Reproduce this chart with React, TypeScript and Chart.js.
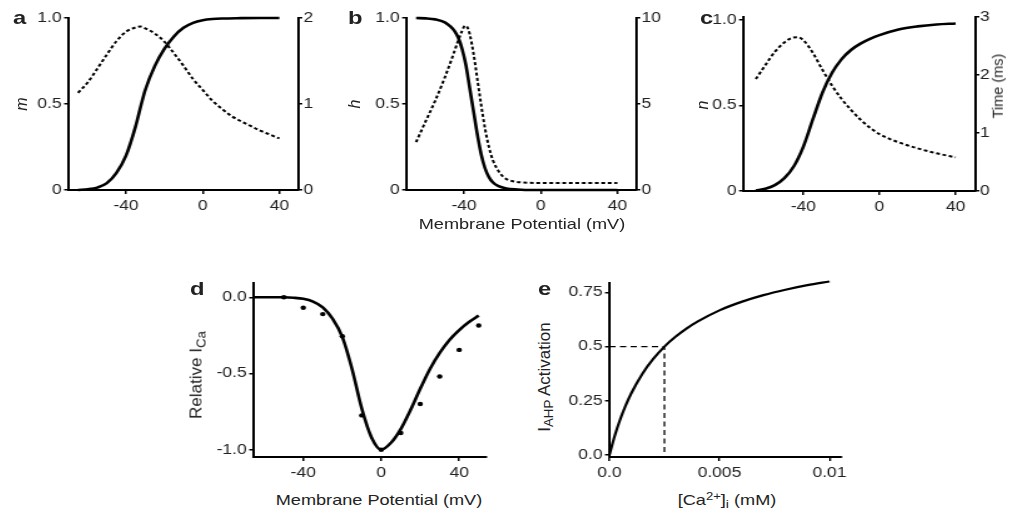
import React, { useEffect, useRef } from "react";
import { Chart, registerables } from "chart.js";

Chart.register(...registerables);

// horizontal stretch of the original figure
const S = 1.25;
const FONT = '"Liberation Sans", Arial, Helvetica, sans-serif';
const INK = "#000";
const TEXT = "#222";

// ---------- Panel a : m gate ----------
const A_V = [-65, -60, -55, -50, -45, -40, -35, -32, -30, -25, -20, -15, -10, -5, 0, 5, 10, 20, 30, 40];
const A_M = [0, 0.004, 0.014, 0.04, 0.1, 0.2, 0.37, 0.5, 0.58, 0.72, 0.82, 0.893, 0.943, 0.972, 0.987, 0.994, 0.997, 0.999, 1, 1];
const A_TAU_V = [-65, -60, -55, -50, -45, -40, -35, -32.5, -30, -25, -20, -15, -10, -5, 0, 5, 10, 15, 20, 25, 30, 35, 40];
const A_TAU = [1.13, 1.25, 1.41, 1.575, 1.73, 1.84, 1.89, 1.9, 1.88, 1.82, 1.725, 1.59, 1.445, 1.29, 1.165, 1.04, 0.945, 0.86, 0.8, 0.745, 0.69, 0.645, 0.6];
const A_X_TICKS = [-40, 0, 40];
const A_X_LABELS = ["-40", "0", "40"];
const A_Y_TICKS = [0, 0.5, 1];
const A_Y_LABELS = ["0", "0.5", "1.0"];
const A_Y2_TICKS = [0, 1, 2];
const A_Y2_LABELS = ["0", "1", "2"];

// ---------- Panel b : h gate ----------
const B_V = [-65, -60, -55, -50, -47, -45, -43, -41, -39, -37, -35, -33, -31, -29, -27, -25, -22, -18, -12, -5, 0, 10, 20, 30, 40];
const B_H = [1, 0.998, 0.992, 0.975, 0.95, 0.925, 0.885, 0.82, 0.725, 0.59, 0.455, 0.32, 0.205, 0.125, 0.075, 0.045, 0.022, 0.009, 0.003, 0, 0, 0, 0, 0, 0];
const B_TAU_V = [-65, -60, -55, -50, -46, -43, -41, -39.5, -38.5, -37, -35, -33, -31, -29, -27, -25, -22, -19, -15, -10, 0, 20, 40];
const B_TAU = [2.78, 4.0, 5.2, 6.55, 7.75, 8.7, 9.25, 9.55, 9.5, 9.05, 7.9, 6.4, 4.9, 3.55, 2.5, 1.75, 1.1, 0.72, 0.52, 0.44, 0.41, 0.4, 0.4];
const B_Y2_TICKS = [0, 5, 10];
const B_Y2_LABELS = ["0", "5", "10"];

// ---------- Panel c : n gate ----------
const C_V = [-65, -60, -55, -50, -45, -40, -35, -30, -25, -20, -15, -10, -5, 0, 10, 20, 30, 40];
const C_N = [0.003, 0.013, 0.034, 0.075, 0.145, 0.26, 0.42, 0.575, 0.69, 0.77, 0.825, 0.862, 0.89, 0.912, 0.945, 0.963, 0.974, 0.98];
const C_TAU_V = [-65, -60, -55, -50, -46, -43, -40, -35, -30, -25, -20, -15, -10, -5, 0, 10, 20, 30, 40];
const C_TAU = [1.93, 2.17, 2.4, 2.56, 2.64, 2.65, 2.6, 2.38, 2.09, 1.82, 1.59, 1.4, 1.23, 1.09, 0.98, 0.84, 0.735, 0.65, 0.58];
const C_Y2_TICKS = [0, 1, 2, 3];
const C_Y2_LABELS = ["0", "1", "2", "3"];

// ---------- Panel d : relative I_Ca ----------
const D_V = [-65, -50, -45, -40, -35, -30, -25, -20, -15, -10, -5, 0, 5, 10, 15, 20, 25, 30, 35, 40, 45, 50];
const D_FIT = [0, 0, -0.003, -0.01, -0.028, -0.066, -0.14, -0.26, -0.47, -0.73, -0.92, -1.0, -0.955, -0.865, -0.74, -0.6, -0.47, -0.365, -0.28, -0.215, -0.162, -0.12];
const D_PTS_V = [-50, -40, -30, -20, -10, 0, 10, 20, 30, 40, 50];
const D_PTS = [0, -0.068, -0.11, -0.255, -0.775, -1.0, -0.89, -0.7, -0.52, -0.345, -0.185];
const D_X_TICKS = [-40, 0, 40];
const D_X_LABELS = ["-40", "0", "40"];
const D_Y_TICKS = [-1, -0.5, 0];
const D_Y_LABELS = ["-1.0", "-0.5", "0.0"];

// ---------- Panel e : I_AHP activation ----------
const E_CA = [0, 0.00025, 0.0005, 0.00075, 0.001, 0.0015, 0.002, 0.0025, 0.003, 0.0035, 0.004, 0.005, 0.006, 0.007, 0.008, 0.009, 0.01];
const E_ACT = [0, 0.091, 0.167, 0.231, 0.286, 0.375, 0.444, 0.5, 0.545, 0.583, 0.615, 0.667, 0.706, 0.737, 0.762, 0.783, 0.8];
const E_HALF_CA = 0.0025;
const E_HALF_ACT = 0.5;
const E_X_TICKS = [0, 0.005, 0.01];
const E_X_LABELS = ["0.0", "0.005", "0.01"];
const E_Y_TICKS = [0, 0.25, 0.5, 0.75];
const E_Y_LABELS = ["0.0", "0.25", "0.5", "0.75"];

type Box = { left: number; top: number; right: number; bottom: number };

const pts = (xs: number[], ys: number[]) => xs.map((x, i) => ({ x, y: ys[i] }));

function axis(pos: string, min: number, max: number, ticks: number[], labels: string[], size: number, tickLen: number, pad: number) {
  return {
    type: "linear",
    position: pos,
    min,
    max,
    afterBuildTicks: (s: any) => {
      s.ticks = ticks.map((v) => ({ value: v }));
    },
    afterFit: (s: any) => {
      if (pos === "bottom") s.height = size;
      else s.width = size;
    },
    ticks: {
      callback: (_v: any, i: number) => labels[i],
      font: { family: FONT, size: 14 },
      color: TEXT,
      padding: pad,
      autoSkip: false,
      maxRotation: 0,
      minRotation: 0,
    },
    grid: { display: true, drawOnChartArea: false, drawTicks: true, tickLength: tickLen, color: INK, lineWidth: 1.5 },
    border: { display: true, color: INK, width: 2 },
  };
}

const solid = (data: any[], yAxisID = "y") => ({
  data,
  yAxisID,
  showLine: true,
  borderColor: INK,
  borderWidth: 2.6,
  pointRadius: 0,
  pointHoverRadius: 0,
  cubicInterpolationMode: "monotone",
  clip: false,
  fill: false,
});

const dotted = (data: any[], yAxisID = "y2") => ({
  ...solid(data, yAxisID),
  borderWidth: 2,
  borderDash: [3, 2.2],
});

function config(datasets: any[], scales: any) {
  return {
    type: "scatter",
    data: { datasets },
    options: {
      animation: false,
      responsive: false,
      maintainAspectRatio: false,
      events: [],
      layout: { padding: { top: 12, right: 14, bottom: 2, left: 2 } },
      plugins: { legend: { display: false }, tooltip: { enabled: false }, title: { display: false } },
      scales,
    },
  } as any;
}

const buildA = () =>
  config(
    [solid(pts(A_V, A_M)), dotted(pts(A_TAU_V, A_TAU))],
    {
      x: axis("bottom", -70, 50, A_X_TICKS, A_X_LABELS, 30, 4, 4),
      y: axis("left", 0, 1, A_Y_TICKS, A_Y_LABELS, 36, 3.5, 2),
      y2: axis("right", 0, 2, A_Y2_TICKS, A_Y2_LABELS, 28, 3, 1),
    }
  );

const buildB = () =>
  config(
    [solid(pts(B_V, B_H)), dotted(pts(B_TAU_V, B_TAU))],
    {
      x: axis("bottom", -70, 50, A_X_TICKS, A_X_LABELS, 30, 4, 4),
      y: axis("left", 0, 1, A_Y_TICKS, A_Y_LABELS, 36, 3.5, 2),
      y2: axis("right", 0, 10, B_Y2_TICKS, B_Y2_LABELS, 28, 3, 1),
    }
  );

const buildC = () =>
  config(
    [solid(pts(C_V, C_N)), dotted(pts(C_TAU_V, C_TAU))],
    {
      x: axis("bottom", -71.5, 50.5, A_X_TICKS, A_X_LABELS, 30, 4, 4),
      y: axis("left", 0, 1.018, A_Y_TICKS, A_Y_LABELS, 36, 3.5, 2),
      y2: axis("right", 0, 3, C_Y2_TICKS, C_Y2_LABELS, 28, 3, 0.5),
    }
  );

const buildD = () =>
  config(
    [
      solid(pts(D_V, D_FIT)),
      {
        data: pts(D_PTS_V, D_PTS),
        yAxisID: "y",
        showLine: false,
        pointRadius: 2.2,
        pointHoverRadius: 0,
        pointBackgroundColor: INK,
        pointBorderWidth: 0,
        clip: false,
      },
    ],
    {
      x: axis("bottom", -65.5, 54, D_X_TICKS, D_X_LABELS, 30, 4, 4),
      y: axis("left", -1.048, 0.094, D_Y_TICKS, D_Y_LABELS, 40, 3.5, 2),
    }
  );

const buildE = () =>
  config(
    [
      { ...solid(pts(E_CA, E_ACT)), borderWidth: 2.2 },
      {
        data: [
          { x: 0, y: E_HALF_ACT },
          { x: E_HALF_CA, y: E_HALF_ACT },
          { x: E_HALF_CA, y: 0 },
        ],
        yAxisID: "y",
        showLine: true,
        borderColor: INK,
        borderWidth: 1.3,
        borderDash: [5, 3.5],
        pointRadius: 0,
        pointHoverRadius: 0,
        tension: 0,
        clip: false,
      },
    ],
    {
      x: axis("bottom", 0, 0.01055, E_X_TICKS, E_X_LABELS, 30, 4, 4),
      y: axis("left", -0.009, 0.793, E_Y_TICKS, E_Y_LABELS, 40, 3.5, 2),
    }
  );

function mount(canvas: HTMLCanvasElement, build: () => any, box: Box): Chart {
  const create = (w: number, h: number) => {
    canvas.width = w;
    canvas.height = h;
    canvas.style.width = w * S + "px";
    canvas.style.height = h + "px";
    return new Chart(canvas, build());
  };
  let w = Math.round((box.right - box.left) / S + 80);
  let h = Math.round(box.bottom - box.top + 45);
  let chart = create(w, h);
  let ca = chart.chartArea;
  const extraW = w - (ca.right - ca.left);
  const extraH = h - (ca.bottom - ca.top);
  chart.destroy();
  w = Math.round((box.right - box.left) / S + extraW);
  h = Math.round(box.bottom - box.top + extraH);
  chart = create(w, h);
  ca = chart.chartArea;
  canvas.style.left = box.left - ca.left * S + "px";
  canvas.style.top = box.top - ca.top + "px";
  return chart;
}

function Panel({ build, box }: { build: () => any; box: Box }) {
  const ref = useRef<HTMLCanvasElement>(null);
  useEffect(() => {
    const chart = mount(ref.current as HTMLCanvasElement, build, box);
    return () => chart.destroy();
  }, []);
  return <canvas ref={ref} style={{ position: "absolute" }} />;
}

const subStyle: React.CSSProperties = { fontSize: "0.78em", verticalAlign: "-0.3em", lineHeight: 0 };
const supStyle: React.CSSProperties = { fontSize: "0.72em", verticalAlign: "0.45em", lineHeight: 0 };

function HText({ x, baseline, size, children, bold, anchor = "middle" }: any) {
  const top = baseline - 0.8465 * size;
  return (
    <div
      style={{
        position: "absolute",
        left: x,
        top,
        fontFamily: FONT,
        fontSize: size,
        lineHeight: `${size}px`,
        fontWeight: bold ? "bold" : "normal",
        color: TEXT,
        whiteSpace: "nowrap",
        transform: anchor === "middle" ? `translateX(-50%) scaleX(${S})` : `scaleX(${S})`,
        transformOrigin: anchor === "middle" ? "50% 50%" : "0 50%",
      }}
    >
      {children}
    </div>
  );
}

function VText({ cx, cy, size, children, italic }: any) {
  return (
    <div
      style={{
        position: "absolute",
        left: cx,
        top: cy,
        fontFamily: FONT,
        fontSize: size,
        lineHeight: `${size}px`,
        fontStyle: italic ? "italic" : "normal",
        color: TEXT,
        whiteSpace: "nowrap",
        transform: "translate(-50%, -50%) rotate(-90deg)",
      }}
    >
      {children}
    </div>
  );
}

export default function App() {
  return (
    <div
      style={{
        position: "absolute",
        left: 0,
        top: 0,
        width: 1025,
        height: 517,
        overflow: "hidden",
        background: "#fff",
      }}
    >
      <Panel build={buildA} box={{ left: 68, top: 18, right: 298.5, bottom: 190 }} />
      <Panel build={buildB} box={{ left: 406.7, top: 18, right: 637, bottom: 190 }} />
      <Panel build={buildC} box={{ left: 743.3, top: 17, right: 975.5, bottom: 190.5 }} />
      <Panel build={buildD} box={{ left: 253.5, top: 283, right: 486, bottom: 457 }} />
      <Panel build={buildE} box={{ left: 609.3, top: 283.3, right: 842, bottom: 457.3 }} />

      <HText x={13} baseline={24} size={19} bold anchor="start">a</HText>
      <HText x={348} baseline={24} size={19} bold anchor="start">b</HText>
      <HText x={700} baseline={24} size={19} bold anchor="start">c</HText>
      <HText x={190} baseline={295} size={19} bold anchor="start">d</HText>
      <HText x={538} baseline={295} size={19} bold anchor="start">e</HText>

      <VText cx={21.5} cy={104} size={16} italic>m</VText>
      <VText cx={355} cy={104} size={16} italic>h</VText>
      <VText cx={702.5} cy={105} size={16} italic>n</VText>
      <VText cx={998} cy={86} size={14.5}>Time (ms)</VText>

      <HText x={522} baseline={229} size={14.5}>Membrane Potential (mV)</HText>
      <HText x={379} baseline={505} size={14.5}>Membrane Potential (mV)</HText>

      <VText cx={196} cy={375} size={17}>
        Relative I<span style={subStyle}>Ca</span>
      </VText>
      <VText cx={544} cy={377} size={17}>
        I<span style={subStyle}>AHP</span> Activation
      </VText>
      <HText x={727} baseline={505} size={14.5}>
        [Ca<span style={supStyle}>2+</span>]<span style={subStyle}>i</span> (mM)
      </HText>
    </div>
  );
}
